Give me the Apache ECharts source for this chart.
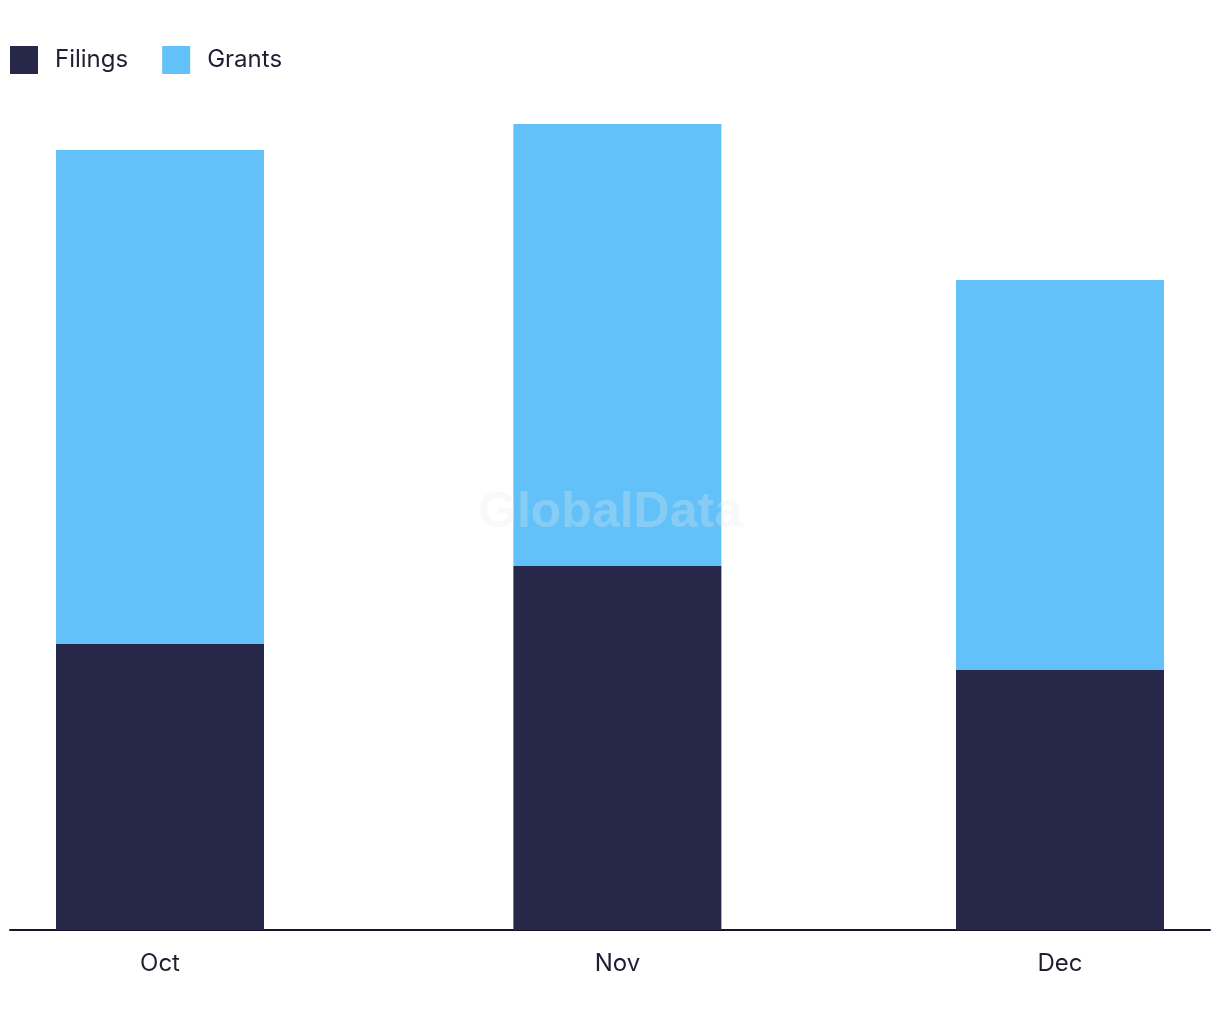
<!DOCTYPE html>
<html>
<head>
<meta charset="utf-8">
<script src="https://cdn.jsdelivr.net/npm/echarts@6/dist/echarts.min.js"></script>
<style>
html,body{margin:0;padding:0;background:#fff;}
#chart{width:1220px;height:1020px;}
</style>
</head>
<body>
<div id="chart"></div>
<script>
const months = [[2023, 9, 1], [2023, 10, 1], [2023, 11, 1]];
const monthLabels = ['Oct', 'Nov', 'Dec'];
const filings = [11, 14, 10];
const grants = [19, 17, 15];

const DAY = 86400000;
const ts = months.map(m => new Date(m[0], m[1], m[2]).getTime());
const labelByMonth = {};
months.forEach((m, i) => { labelByMonth[m[1]] = monthLabels[i]; });

const chart = echarts.init(document.getElementById('chart'));
chart.setOption({
  animation: false,
  textStyle: { fontFamily: 'Inter, "Noto Sans", sans-serif' },
  legend: {
    left: 10, top: 46, padding: 0,
    itemWidth: 28, itemHeight: 28, itemGap: 34,
    icon: 'rect',
    textStyle: { fontSize: 24, color: '#1f1f33', padding: [0, 0, 0, 12] },
    data: ['Filings', 'Grants']
  },
  grid: { left: 10, right: 10, top: 20, bottom: 90, containLabel: false },
  xAxis: {
    type: 'time',
    min: ts[0] - 3.118 * DAY,
    max: ts[2] + 3.118 * DAY,
    minInterval: 28 * DAY,
    maxInterval: 31 * DAY,
    axisLine: { show: true, lineStyle: { color: '#16162a', width: 2 } },
    axisTick: { show: false },
    splitLine: { show: false },
    axisLabel: {
      fontSize: 24, color: '#1f1f33', margin: 22,
      showMinLabel: false, showMaxLabel: false,
      formatter: function (val) {
        const d = new Date(val);
        return d.getDate() === 1 && labelByMonth[d.getMonth()] ? labelByMonth[d.getMonth()] : '';
      }
    }
  },
  yAxis: {
    type: 'value', min: 0, max: 35, show: false,
    splitLine: { show: false }
  },
  graphic: [{
    type: 'text', left: 'center', top: 488, z: 100, silent: true,
    style: {
      text: 'GlobalData',
      font: 'bold 50px "Liberation Sans", Arial, sans-serif',
      fill: 'rgba(232,232,232,0.28)'
    }
  }],
  series: [
    {
      name: 'Filings', type: 'bar', stack: 'total', barWidth: 208,
      itemStyle: { color: '#27274a' },
      data: ts.map((t, i) => [t, filings[i]])
    },
    {
      name: 'Grants', type: 'bar', stack: 'total', barWidth: 208,
      itemStyle: { color: '#62c1f9' },
      data: ts.map((t, i) => [t, grants[i]])
    }
  ]
});
</script>
</body>
</html>
